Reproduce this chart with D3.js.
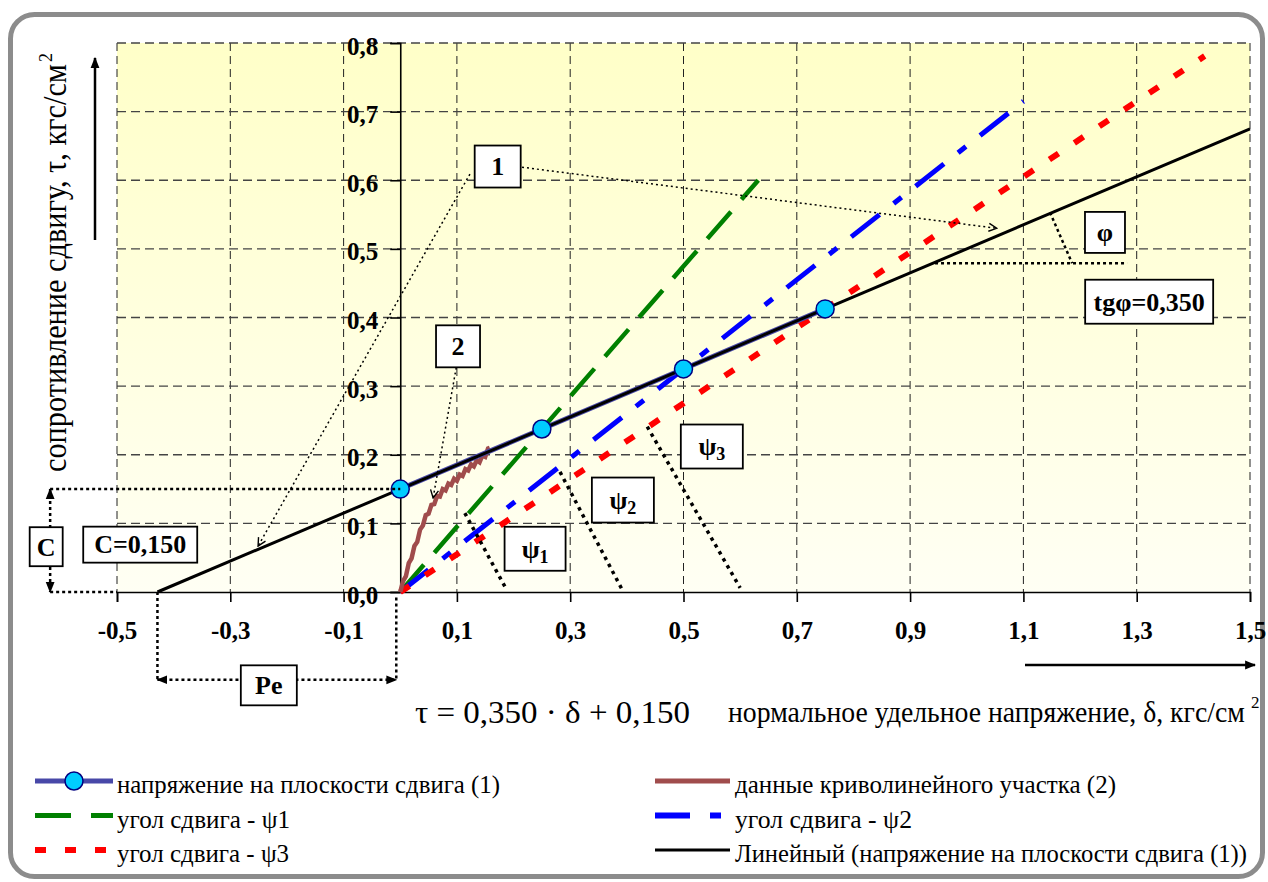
<!DOCTYPE html>
<html>
<head>
<meta charset="utf-8">
<script src="https://cdn.jsdelivr.net/npm/d3@7"></script>
<style>
  body { margin: 0; background: #fff; }
  text { font-family: "Liberation Serif", "Times New Roman", serif; }
</style>
</head>
<body>
<div id="container"></div>
<script>
/* CONSTANTS AND GLOBALS */
const width = 1268,
      height = 882,
      plotLeft = 117,
      plotRight = 1250,
      plotTop = 43,
      plotBottom = 592;

/* DATA */
const xTicks = [-0.5, -0.3, -0.1, 0.1, 0.3, 0.5, 0.7, 0.9, 1.1, 1.3, 1.5];
const yTicks = [0, 0.1, 0.2, 0.3, 0.4, 0.5, 0.6, 0.7, 0.8];

// напряжение на плоскости сдвига (1)
const shearX = [0, 0.25, 0.5, 0.75];
const shearY = [0.15, 0.2375, 0.325, 0.4125];

// линейный тренд по (1)
const trendX = [-0.4286, 1.5];
const trendY = [0, 0.675];

// данные криволинейного участка (2)
const curveX = [0, 0.005, 0.010, 0.015, 0.020, 0.025, 0.030, 0.035, 0.040, 0.045, 0.050, 0.055, 0.060, 0.065, 0.070, 0.075,
                0.080, 0.085, 0.090, 0.095, 0.100, 0.105, 0.110, 0.115, 0.120, 0.125, 0.130, 0.135, 0.140, 0.145, 0.150,
                0.155, 0.158];
const curveY = [0, 0.016, 0.023, 0.042, 0.049, 0.067, 0.073, 0.091, 0.097, 0.112, 0.114, 0.127, 0.128, 0.140, 0.139, 0.150,
                0.148, 0.158, 0.156, 0.165, 0.162, 0.171, 0.169, 0.179, 0.177, 0.186, 0.183, 0.192, 0.189, 0.199, 0.197,
                0.209, 0.210];

// углы сдвига
const psi1X = [0, 0.632], psi1Y = [0, 0.6];
const psi2X = [0, 1.1],   psi2Y = [0, 0.715];
const psi3X = [0, 1.42],  psi3Y = [0, 0.781];

const legendLabels = [
  "напряжение на плоскости сдвига (1)",
  "данные криволинейного участка (2)",
  "угол сдвига - ψ1",
  "угол сдвига - ψ2",
  "угол сдвига - ψ3",
  "Линейный (напряжение на плоскости сдвига (1))"
];

/* SCALES */
const xScale = d3.scaleLinear().domain([-0.5, 1.5]).range([plotLeft, plotRight]);
const yScale = d3.scaleLinear().domain([0, 0.8]).range([plotBottom, plotTop]);
const fmt = d => d3.format(".1f")(d).replace(".", ",").replace("−", "-");

const zip = (xs, ys) => xs.map((x, i) => [x, ys[i]]);
const line = d3.line().x(d => xScale(d[0])).y(d => yScale(d[1]));
const serif = "Liberation Serif, Times New Roman, serif";

/* SVG */
const svg = d3.select("#container").append("svg")
  .attr("width", width)
  .attr("height", height);

const defs = svg.append("defs");
const grad = defs.append("linearGradient").attr("id", "bg")
  .attr("x1", 0).attr("y1", 0).attr("x2", 0).attr("y2", 1);
grad.append("stop").attr("offset", "0%").attr("stop-color", "#ffffc8");
grad.append("stop").attr("offset", "100%").attr("stop-color", "#fffff4");

// arrow heads
defs.append("marker").attr("id", "openArrow")
  .attr("viewBox", "0 0 10 10").attr("refX", 9).attr("refY", 5)
  .attr("markerWidth", 10).attr("markerHeight", 10).attr("markerUnits", "userSpaceOnUse")
  .attr("orient", "auto")
  .append("path").attr("d", "M1,1 L9,5 L1,9").attr("fill", "none").attr("stroke", "#000").attr("stroke-width", 1.4);
defs.append("marker").attr("id", "solidArrow")
  .attr("viewBox", "0 0 10 10").attr("refX", 9).attr("refY", 5)
  .attr("markerWidth", 11).attr("markerHeight", 11).attr("markerUnits", "userSpaceOnUse")
  .attr("orient", "auto-start-reverse")
  .append("path").attr("d", "M0,1 L10,5 L0,9 Z").attr("fill", "#000");

// outer frame
svg.append("rect")
  .attr("x", 10.5).attr("y", 14.5).attr("width", 1252).attr("height", 862).attr("rx", 24)
  .attr("fill", "none").attr("stroke", "#8c8c8c").attr("stroke-width", 5);

// plot background
svg.append("rect")
  .attr("x", plotLeft).attr("y", plotTop)
  .attr("width", plotRight - plotLeft).attr("height", plotBottom - plotTop)
  .attr("fill", "url(#bg)");

// grid
svg.append("g").selectAll("line")
  .data(xTicks)
  .join("line")
  .attr("x1", d => xScale(d)).attr("x2", d => xScale(d))
  .attr("y1", plotTop).attr("y2", plotBottom)
  .attr("stroke", "#222").attr("stroke-width", 1).attr("stroke-dasharray", "8,5");
svg.append("g").selectAll("line")
  .data(yTicks.filter(d => d > 0))
  .join("line")
  .attr("x1", plotLeft).attr("x2", plotRight)
  .attr("y1", d => yScale(d)).attr("y2", d => yScale(d))
  .attr("stroke", "#444").attr("stroke-width", 1.3).attr("stroke-dasharray", "9,5");

/* AXES */
const gx = svg.append("g")
  .attr("transform", `translate(0, ${yScale(0)})`)
  .call(d3.axisBottom(xScale).tickValues(xTicks).tickSize(10).tickPadding(19).tickFormat(fmt));
const gy = svg.append("g")
  .attr("transform", `translate(${xScale(0)}, 0)`)
  .call(d3.axisLeft(yScale).tickValues(yTicks).tickSize(10).tickPadding(12).tickFormat(fmt));
[gx, gy].forEach(g => {
  g.attr("font-family", serif);
  g.select(".domain").attr("stroke-width", 1.6);
  g.selectAll(".tick line").attr("stroke-width", 1.6);
  g.selectAll(".tick text")
    .attr("font-size", 25).attr("font-weight", "bold").attr("fill", "#000");
});
gy.selectAll(".tick text").attr("dy", "0.44em");

/* SERIES */
svg.append("path").datum(zip(psi1X, psi1Y)).attr("d", line)
  .attr("fill", "none").attr("stroke", "#008000").attr("stroke-width", 4.5).attr("stroke-dasharray", "36,16");
svg.append("path").datum(zip(psi2X, psi2Y)).attr("d", line)
  .attr("fill", "none").attr("stroke", "#0000ff").attr("stroke-width", 5).attr("stroke-dasharray", "36,18,10,18");
svg.append("path").datum(zip(psi3X, psi3Y)).attr("d", line)
  .attr("fill", "none").attr("stroke", "#ff0000").attr("stroke-width", 6).attr("stroke-dasharray", "11,19");
svg.append("path").datum(zip(curveX, curveY)).attr("d", line)
  .attr("fill", "none").attr("stroke", "#a04c4c").attr("stroke-width", 4.5).attr("stroke-linejoin", "miter");
svg.append("path").datum(zip(shearX, shearY)).attr("d", line)
  .attr("fill", "none").attr("stroke", "#4848a8").attr("stroke-width", 5);
svg.append("path").datum(zip(trendX, trendY)).attr("d", line)
  .attr("fill", "none").attr("stroke", "#000").attr("stroke-width", 3);
svg.append("g").selectAll("circle")
  .data(zip(shearX, shearY))
  .join("circle")
  .attr("cx", d => xScale(d[0])).attr("cy", d => yScale(d[1])).attr("r", 9)
  .attr("fill", "#00ccff").attr("stroke", "#000080").attr("stroke-width", 1.5);

/* ANNOTATIONS (data units) */
const dotted = (pts, width, dash, marks) => {
  const p = svg.append("path").datum(pts).attr("d", line)
    .attr("fill", "none").attr("stroke", "#000")
    .attr("stroke-width", width).attr("stroke-dasharray", dash);
  if (marks === "end") p.attr("marker-end", "url(#openArrow)");
  if (marks === "both") p.attr("marker-start", "url(#solidArrow)").attr("marker-end", "url(#solidArrow)");
  return p;
};
// arrows from boxes 1 and 2
dotted([[0.123, 0.609], [-0.251, 0.067]], 1.5, "2,3", "end");
dotted([[0.215, 0.619], [1.053, 0.530]], 1.5, "2,3", "end");
dotted([[0.0988, 0.327], [0.058, 0.137]], 1.5, "2,3", "end");
// C
dotted([[-0.618, 0.15], [0, 0.15]], 2.5, "3,3");
dotted([[-0.618, 0], [-0.5, 0]], 2.5, "3,3");
dotted([[-0.618, 0.15], [-0.618, 0]], 2.5, "3,3", "both");
// Pe
dotted([[trendX[0], 0], [trendX[0], -0.128]], 2.5, "3,3");
dotted([[-0.007, -0.008], [-0.007, -0.128]], 2.5, "3,3");
dotted([[trendX[0], -0.128], [-0.007, -0.128]], 2.5, "3,3", "both");
// phi
dotted([[1.147, 0.553], [1.186, 0.479]], 2.5, "3,3");
dotted([[0.944, 0.479], [1.283, 0.479]], 2.5, "3,3");
// psi
dotted([[0.114, 0.115], [0.188, 0.003]], 3.5, "3.5,4.5");
dotted([[0.282, 0.175], [0.392, 0.003]], 3.5, "3.5,4.5");
dotted([[0.436, 0.241], [0.600, 0.006]], 3.5, "3.5,4.5");

const boxes = [
  { x: 0.172, y: 0.620, w: 46, h: 42, t: "1" },
  { x: 0.102, y: 0.358, w: 44, h: 42, t: "2" },
  { x: -0.625, y: 0.066, w: 33, h: 39, t: "C" },
  { x: -0.459, y: 0.069, w: 114, h: 36, t: "C=0,150" },
  { x: -0.232, y: -0.136, w: 56, h: 40, t: "Pe" },
  { x: 1.244, y: 0.524, w: 40, h: 41, t: "φ" },
  { x: 1.322, y: 0.423, w: 128, h: 44, t: "tgφ=0,350" },
  { x: 0.238, y: 0.063, w: 61, h: 44, t: "ψ", sub: "1" },
  { x: 0.393, y: 0.134, w: 62, h: 45, t: "ψ", sub: "2" },
  { x: 0.550, y: 0.212, w: 62, h: 44, t: "ψ", sub: "3" }
];
const boxG = svg.append("g").selectAll("g")
  .data(boxes)
  .join("g")
  .attr("transform", d => `translate(${xScale(d.x)}, ${yScale(d.y)})`);
boxG.append("rect")
  .attr("x", d => -d.w / 2).attr("y", d => -d.h / 2)
  .attr("width", d => d.w).attr("height", d => d.h)
  .attr("fill", "#fff").attr("stroke", "#000").attr("stroke-width", 1.8);
const bt = boxG.append("text")
  .attr("text-anchor", "middle").attr("dy", "0.34em")
  .attr("font-size", 26).attr("font-weight", "bold");
bt.append("tspan").text(d => d.t);
bt.filter(d => d.sub).append("tspan")
  .attr("font-size", 18).attr("dy", 5).text(d => d.sub);

/* AXIS TITLES */
const ytitle = svg.append("text")
  .attr("transform", "translate(66, 472) rotate(-90)")
  .attr("font-size", 34);
ytitle.append("tspan").text("сопротивление сдвигу, τ,  кгс/см")
  .attr("textLength", 408).attr("lengthAdjust", "spacingAndGlyphs");
ytitle.append("tspan").attr("font-size", 18).attr("dy", -14).attr("dx", 2).text("2");
svg.append("line").attr("x1", 95).attr("x2", 95).attr("y1", 240).attr("y2", 58)
  .attr("stroke", "#000").attr("stroke-width", 2.5).attr("marker-end", "url(#solidArrow)");

// x title: squeeze horizontally to the width it has in the picture
const xtitle = svg.append("text")
  .attr("font-size", 29)
  .text("нормальное удельное напряжение, δ, кгс/см");
const xtLen = xtitle.node().getComputedTextLength();
xtitle.attr("transform", `translate(728, 722) scale(${517 / xtLen}, 1)`);
svg.append("text")
  .attr("x", 1251).attr("y", 708)
  .attr("font-size", 17)
  .text("2");
svg.append("line").attr("x1", 1025).attr("x2", 1255).attr("y1", 665).attr("y2", 665)
  .attr("stroke", "#000").attr("stroke-width", 2.5).attr("marker-end", "url(#solidArrow)");

svg.append("text").attr("x", 415).attr("y", 723).attr("font-size", 31)
  .attr("textLength", 275).attr("lengthAdjust", "spacingAndGlyphs")
  .text("τ = 0,350 · δ + 0,150");

/* LEGEND */
const legendRows = [793, 827.5, 862];
const legendCols = [{ x0: 35, x1: 113, tx: 117 }, { x0: 655, x1: 730, tx: 735 }];
const legendStyles = [
  { stroke: "#4848a8", w: 5, dash: null, marker: true },
  { stroke: "#a04c4c", w: 5, dash: null },
  { stroke: "#008000", w: 5, dash: "36,20" },
  { stroke: "#0000ff", w: 6, dash: "35,20,11,20" },
  { stroke: "#ff0000", w: 6, dash: "11,19" },
  { stroke: "#000", w: 3, dash: null }
];
const legendWidths = [383, 381, 173, 177, 172, 512];
const legend = svg.append("g").selectAll("g")
  .data(legendLabels)
  .join("g")
  .attr("transform", (d, i) => `translate(0, ${legendRows[Math.floor(i / 2)]})`);
legend.append("line")
  .attr("x1", (d, i) => legendCols[i % 2].x0).attr("x2", (d, i) => legendCols[i % 2].x1)
  .attr("y1", -12).attr("y2", -12)
  .attr("stroke", (d, i) => legendStyles[i].stroke)
  .attr("stroke-width", (d, i) => legendStyles[i].w)
  .attr("stroke-dasharray", (d, i) => legendStyles[i].dash);
legend.filter((d, i) => legendStyles[i].marker).append("circle")
  .attr("cx", 74).attr("cy", -12).attr("r", 9)
  .attr("fill", "#00ccff").attr("stroke", "#000080").attr("stroke-width", 1.5);
legend.append("text")
  .attr("x", (d, i) => legendCols[i % 2].tx)
  .attr("font-size", 25)
  .attr("textLength", (d, i) => legendWidths[i]).attr("lengthAdjust", "spacingAndGlyphs")
  .text(d => d);
</script>
</body>
</html>
